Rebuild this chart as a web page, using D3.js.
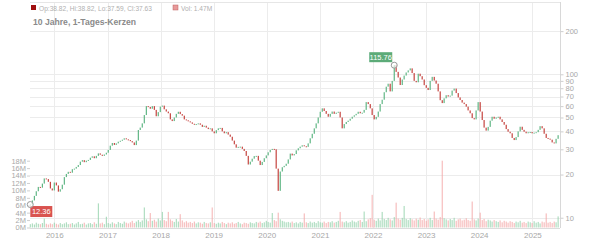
<!DOCTYPE html>
<html>
<head>
<meta charset="utf-8">
<script src="https://cdn.jsdelivr.net/npm/d3@7"></script>
<style>
  body { margin: 0; background: #fff; }
  svg { display: block; font-family: "Liberation Sans", Arial, sans-serif; }
</style>
</head>
<body>
<svg width="600" height="240"></svg>
<script>
// closing prices, roughly every two weeks from July 2015 to July 2025
const closes = [
  12.36,13.2,14.2,15.3,16.4,16.2,17.3,18.8,18.6,17.8,
  16.0,15.5,17.6,16.8,15.2,15.8,17.0,19.2,20.2,20.9,
  20.6,21.8,22.0,22.6,23.3,24.6,25.2,24.4,25.0,25.3,
  26.2,26.8,26.0,27.0,28.1,27.5,27.0,27.6,28.4,29.7,
  31.8,33.2,32.2,33.0,33.9,34.4,35.0,35.8,35.2,34.8,
  34.2,33.5,32.1,34.5,40.9,42.5,45.5,52.0,60.0,59.2,
  57.5,60.0,56.5,51.0,54.5,59.5,60.5,57.0,55.0,53.5,
  48.5,47.2,50.0,53.0,54.8,52.8,51.5,48.5,47.8,47.0,
  46.2,45.2,44.5,45.0,45.5,44.5,43.0,43.8,42.5,41.5,
  42.0,40.0,38.8,40.8,42.0,42.3,40.0,38.8,39.5,38.0,
  36.7,34.5,32.5,30.8,31.2,31.3,30.2,29.2,27.0,23.5,
  24.6,25.8,26.9,27.0,25.0,23.3,24.5,26.0,27.2,28.6,
  29.7,30.2,30.0,22.0,15.4,21.0,22.5,23.0,23.8,25.5,
  28.0,27.2,27.8,29.5,30.5,31.3,32.0,31.5,31.2,33.0,
  35.8,38.5,42.0,45.5,50.0,54.8,57.9,55.5,53.0,50.6,
  53.0,55.0,53.0,54.0,54.8,50.0,42.0,45.0,46.5,47.5,
  49.0,50.6,51.8,53.0,54.8,53.5,54.0,56.5,64.0,62.0,
  57.9,52.0,48.5,50.5,55.0,62.0,66.5,75.0,82.0,86.0,
  76.0,90.0,115.76,104.0,95.0,84.2,92.0,98.0,103.0,106.5,
  110.0,102.0,90.0,88.0,101.0,97.0,92.0,84.0,80.5,77.7,
  90.0,96.0,90.5,86.0,76.0,66.0,63.0,68.0,71.5,70.0,
  71.0,77.0,79.5,74.0,69.0,66.2,63.5,62.0,59.5,56.0,
  53.5,49.5,48.5,56.0,64.0,55.0,48.0,42.5,40.5,43.0,
  47.5,50.6,49.0,50.0,50.6,48.5,46.5,44.5,41.5,39.8,
  38.8,36.0,34.8,36.5,40.0,43.1,41.0,39.8,38.8,39.5,
  39.6,38.8,39.2,39.5,41.0,43.5,42.0,38.5,36.0,35.6,
  35.0,33.5,33.0,35.5,37.63
]

// volume in millions, one per candle
const volumes = [
  0.9,1.1,0.8,1.3,1.0,0.9,1.2,2.4,1.0,0.8,
  1.1,0.9,1.3,1.0,0.8,1.2,0.9,1.1,1.4,0.9,
  1.0,1.2,0.8,1.1,1.5,0.9,1.0,1.3,0.8,1.1,
  1.2,0.9,1.4,1.0,6.5,1.1,1.3,0.9,2.9,1.2,
  1.0,1.4,1.1,0.9,1.5,1.2,1.0,1.6,1.3,1.1,
  1.4,1.8,1.2,1.6,2.0,1.5,1.9,5.4,2.2,1.7,
  3.9,1.8,2.1,1.6,2.4,1.9,4.2,2.0,1.7,4.2,
  2.2,1.8,1.5,2.3,1.6,3.6,1.9,1.4,1.7,1.3,
  1.5,1.2,1.6,1.1,1.4,1.3,1.0,1.5,1.2,1.1,
  1.4,5.4,1.2,1.0,1.3,1.1,1.5,1.2,0.9,1.3,
  1.1,1.4,1.0,1.2,1.5,1.1,0.9,1.3,1.2,1.0,
  1.4,1.2,1.1,1.5,1.3,1.6,1.2,1.4,1.8,1.5,
  1.3,3.9,2.0,1.7,4.0,2.2,1.8,1.6,1.4,1.5,
  1.3,1.6,1.2,1.4,1.1,1.5,1.3,3.8,1.4,1.2,
  1.6,1.3,1.5,1.2,1.7,1.4,1.3,1.6,1.2,1.5,
  1.4,1.7,1.3,1.5,1.8,4.2,1.6,1.4,1.7,1.3,
  1.5,1.9,1.6,1.4,1.8,2.0,1.5,4.3,1.7,2.2,
  2.5,8.8,2.1,1.8,2.4,1.9,4.2,2.3,2.0,2.6,
  2.2,1.9,2.8,6.7,2.4,2.1,2.6,5.8,2.3,2.0,
  2.5,2.2,1.9,2.4,2.1,2.7,2.0,2.3,1.8,2.2,
  2.6,2.0,4.3,2.4,2.1,2.8,18.0,2.5,2.2,1.9,
  2.3,2.0,2.6,1.8,2.2,2.4,1.9,2.1,2.5,2.0,
  1.8,7.0,2.2,1.9,2.4,4.0,2.0,2.3,1.7,2.1,
  1.9,1.6,2.0,1.7,1.5,1.9,1.4,1.8,1.6,1.3,
  1.7,1.5,1.2,1.6,1.4,1.8,1.3,1.5,1.2,1.6,
  1.4,1.2,1.7,1.3,1.5,1.1,1.6,1.4,3.8,1.3,
  1.5,1.2,1.6,1.4,3.0
]

const priceTicks = [10, 20, 30, 40, 50, 60, 70, 80, 90, 100, 200]
const volTicks = [0, 2, 4, 6, 8, 10, 12, 14, 16, 18]
const lastBar = [38.82, 38.82, 37.59, 37.63] // op, hi, lo, cl
const lastVol = 1.47
const title = "10 Jahre, 1-Tages-Kerzen"

const startDate = new Date(2015, 6, 20)
const stepDays = 13.75

const upColor = "#52b07a"
const downColor = "#c0322d"

const svg = d3.select("svg")

// build candles: open = previous close
const data = closes.map((c, i) => {
  const o = i > 0 ? closes[i - 1] : c
  return {
    date: d3.timeDay.offset(startDate, Math.round(i * stepDays)),
    open: o,
    close: c,
    vol: volumes[i],
    up: c >= o
  }
})

// scales
const x = d3.scaleTime()
  .domain([new Date(2015, 6, 18), new Date(2025, 6, 10)])
  .range([30, 560])

const y = d3.scaleLog()
  .domain([8.48, 267.6])
  .range([228, 13])

const yVol = d3.scaleLinear()
  .domain([0, 18])
  .range([227.5, 160.7])

// grid
const grid = svg.append("g")

grid.selectAll("line.h")
  .data(priceTicks)
  .enter()
  .append("line")
  .attr("x1", 30)
  .attr("x2", 560)
  .attr("y1", d => Math.round(y(d)) + 0.5)
  .attr("y2", d => Math.round(y(d)) + 0.5)
  .attr("stroke", "#ececec")

grid.selectAll("line.v")
  .data(x.ticks(d3.timeYear.every(1)))
  .enter()
  .append("line")
  .attr("x1", d => Math.round(x(d)) + 0.5)
  .attr("x2", d => Math.round(x(d)) + 0.5)
  .attr("y1", 2)
  .attr("y2", 228)
  .attr("stroke", "#ececec")

// frame: top line and bottom line
svg.append("line").attr("x1", 30).attr("x2", 560).attr("y1", 2.5).attr("y2", 2.5).attr("stroke", "#e6e6e6")
svg.append("line").attr("x1", 30).attr("x2", 560).attr("y1", 228.5).attr("y2", 228.5).attr("stroke", "#dcdcdc")

// volume bars
svg.append("g")
  .selectAll("rect")
  .data(data)
  .enter()
  .append("rect")
  .attr("x", d => x(d.date) - 0.5)
  .attr("width", 1)
  .attr("y", d => yVol(d.vol))
  .attr("height", d => yVol(0) - yVol(d.vol))
  .attr("fill", d => d.up ? "#8fd0a8" : "#f3a3a3")
  .attr("opacity", 0.85)

// candles
svg.append("g")
  .selectAll("rect")
  .data(data)
  .enter()
  .append("rect")
  .attr("x", d => x(d.date) - 0.55)
  .attr("width", 1.1)
  .attr("y", d => y(Math.max(d.open, d.close)))
  .attr("height", d => Math.max(1, Math.abs(y(d.open) - y(d.close))))
  .attr("fill", d => d.up ? upColor : downColor)

// right price axis
const yAxis = d3.axisRight(y)
  .tickValues(priceTicks)
  .tickFormat(d3.format("d"))
  .tickSize(3)
  .tickPadding(2)

const gy = svg.append("g")
  .attr("transform", "translate(560.5,0)")
  .call(yAxis)
gy.select(".domain").attr("stroke", "#d8d8d8").attr("d", "M0,2V228")
gy.selectAll(".tick line").attr("stroke", "#cfcfcf")
gy.selectAll("text").attr("fill", "#a8a8a8").style("font-size", "7.5px")

// left volume axis
const vAxis = d3.axisLeft(yVol)
  .tickValues(volTicks)
  .tickFormat(d => d + "M")
  .tickSize(3)
  .tickPadding(1)

const gv = svg.append("g")
  .attr("transform", "translate(30,0)")
  .call(vAxis)
gv.select(".domain").remove()
gv.selectAll(".tick line").attr("stroke", "#cfcfcf")
gv.selectAll("text").attr("fill", "#a8a8a8").style("font-size", "7.5px")

// bottom year axis
const xAxis = d3.axisBottom(x)
  .ticks(d3.timeYear.every(1))
  .tickFormat(d3.timeFormat("%Y"))
  .tickSize(0)
  .tickPadding(4)

const gx = svg.append("g")
  .attr("transform", "translate(0,228)")
  .call(xAxis)
gx.select(".domain").remove()
gx.selectAll("text").attr("fill", "#a8a8a8").style("font-size", "8px")

// header legend
const header = svg.append("g")
header.append("rect").attr("x", 31).attr("y", 5).attr("width", 5).attr("height", 5).attr("fill", "#a01010")
header.append("text")
  .attr("x", 39).attr("y", 10.5)
  .attr("fill", "#b0b0b0")
  .style("font-size", "6.6px")
  .text(`Op:${lastBar[0]}, Hi:${lastBar[1]}, Lo:${lastBar[2]}, Cl:${lastBar[3]}`)
header.append("rect").attr("x", 173).attr("y", 5).attr("width", 5).attr("height", 5).attr("fill", "#e79a9a").attr("stroke", "#c06060").attr("stroke-width", 0.5)
header.append("text")
  .attr("x", 181).attr("y", 10.5)
  .attr("fill", "#b0b0b0")
  .style("font-size", "6.6px")
  .text(`Vol: ${lastVol}M`)

svg.append("text")
  .attr("x", 33).attr("y", 24.5)
  .attr("fill", "#8a8a8a")
  .style("font-size", "8.6px")
  .style("font-weight", "bold")
  .text(title)

// min / max markers
const minD = data[d3.minIndex(data, d => d.close)]
const maxD = data[d3.maxIndex(data, d => d.close)]

const markers = [
  { d: minD, value: minD.close, color: "#d9534f", dx: 0, dy: 1.5, w: 22, h: 11 },
  { d: maxD, value: maxD.close, color: "#5cab78", dx: -25, dy: -13, w: 23, h: 10 }
]

markers.forEach(m => {
  const cx = x(m.d.date)
  const cy = y(m.value)
  svg.append("rect")
    .attr("x", cx + m.dx)
    .attr("y", cy + m.dy)
    .attr("width", m.w)
    .attr("height", m.h)
    .attr("fill", m.color)
  svg.append("text")
    .attr("x", cx + m.dx + m.w / 2)
    .attr("y", cy + m.dy + m.h / 2 + 2.8)
    .attr("text-anchor", "middle")
    .attr("fill", "#fff")
    .style("font-size", "7.5px")
    .text(d3.format(".2f")(m.value))
  svg.append("circle")
    .attr("cx", cx)
    .attr("cy", cy)
    .attr("r", 3)
    .attr("fill", "#fff")
    .attr("fill-opacity", 0.6)
    .attr("stroke", "#999")
    .attr("stroke-width", 1)
})
</script>
</body>
</html>
